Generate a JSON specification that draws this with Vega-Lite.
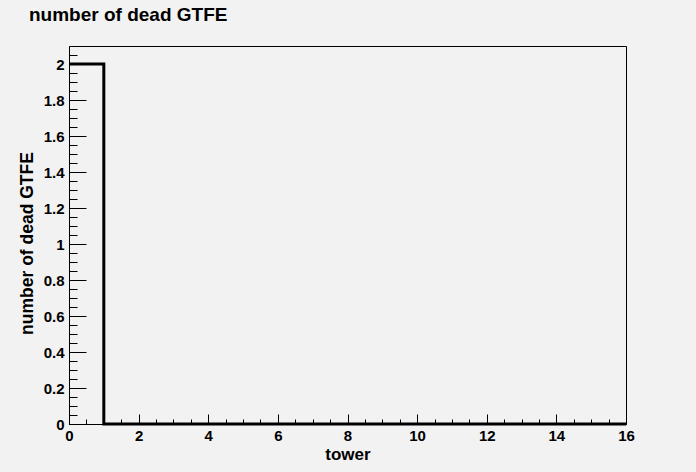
{
  "$schema": "https://vega.github.io/schema/vega-lite/v6.json",
  "autosize": "none",
  "width": 557,
  "height": 378,
  "padding": {"left": 69, "top": 46, "right": 70, "bottom": 48},
  "background": "#f2f2f2",
  "config": {
    "view": {"stroke": "#000000", "strokeWidth": 1, "fill": "#f2f2f2"},
    "font": "Liberation Sans"
  },
  "title": {
    "text": "number of dead GTFE",
    "anchor": "start",
    "frame": "group",
    "font": "Liberation Sans",
    "fontSize": 19,
    "fontWeight": "bold",
    "color": "#000000",
    "dx": -40,
    "offset": 21
  },
  "data": {
    "values": [
      {"tower": 0, "dead": 2},
      {"tower": 1, "dead": 0},
      {"tower": 2, "dead": 0},
      {"tower": 3, "dead": 0},
      {"tower": 4, "dead": 0},
      {"tower": 5, "dead": 0},
      {"tower": 6, "dead": 0},
      {"tower": 7, "dead": 0},
      {"tower": 8, "dead": 0},
      {"tower": 9, "dead": 0},
      {"tower": 10, "dead": 0},
      {"tower": 11, "dead": 0},
      {"tower": 12, "dead": 0},
      {"tower": 13, "dead": 0},
      {"tower": 14, "dead": 0},
      {"tower": 15, "dead": 0},
      {"tower": 16, "dead": 0}
    ]
  },
  "layer": [
    {
      "mark": {"type": "line", "interpolate": "step-after", "color": "#000000", "strokeWidth": 3, "clip": false},
      "encoding": {
        "x": {
          "field": "tower", "type": "quantitative",
          "scale": {"domain": [0, 16], "nice": false, "zero": false},
          "axis": {
            "orient": "bottom", "title": "tower", "values": [0, 2, 4, 6, 8, 10, 12, 14, 16],
            "tickSize": -10, "tickColor": "#000000", "domainColor": "#000000", "domainWidth": 1,
            "labelFont": "Liberation Sans", "labelFontSize": 15, "labelFontWeight": "bold", "labelColor": "#000000",
            "labelPadding": 14, "labelFlush": false, "grid": false,
            "titleFont": "Liberation Sans", "titleFontSize": 17, "titleFontWeight": "bold", "titleColor": "#000000",
            "titlePadding": 3
          }
        },
        "y": {
          "field": "dead", "type": "quantitative",
          "scale": {"domain": [0, 2.1], "nice": false},
          "axis": {
            "orient": "left", "title": "number of dead GTFE",
            "values": [0, 0.2, 0.4, 0.6, 0.8, 1, 1.2, 1.4, 1.6, 1.8, 2], "format": "~g",
            "tickSize": -17, "tickColor": "#000000", "domainColor": "#000000", "domainWidth": 1,
            "labelFont": "Liberation Sans", "labelFontSize": 15, "labelFontWeight": "bold", "labelColor": "#000000",
            "labelPadding": 22, "labelFlush": false, "grid": false,
            "titleFont": "Liberation Sans", "titleFontSize": 17.5, "titleFontWeight": "bold", "titleColor": "#000000",
            "titlePadding": 7, "titleY": 197
          }
        }
      }
    },
    {
      "mark": {"type": "line", "opacity": 0},
      "encoding": {
        "x": {
          "field": "tower", "type": "quantitative",
          "axis": {
            "orient": "bottom", "title": null, "labels": false, "domain": false, "grid": false,
            "values": [0.5, 1, 1.5, 2.5, 3, 3.5, 4.5, 5, 5.5, 6.5, 7, 7.5, 8.5, 9, 9.5, 10.5, 11, 11.5, 12.5, 13, 13.5, 14.5, 15, 15.5],
            "tickSize": -5, "tickColor": "#000000"
          }
        },
        "y": {
          "field": "dead", "type": "quantitative",
          "axis": {
            "orient": "left", "title": null, "labels": false, "domain": false, "grid": false,
            "values": [0.05, 0.1, 0.15, 0.25, 0.3, 0.35, 0.45, 0.5, 0.55, 0.65, 0.7, 0.75, 0.85, 0.9, 0.95, 1.05, 1.1, 1.15, 1.25, 1.3, 1.35, 1.45, 1.5, 1.55, 1.65, 1.7, 1.75, 1.85, 1.9, 1.95, 2.05],
            "tickSize": -8, "tickColor": "#000000"
          }
        }
      }
    }
  ],
  "resolve": {"axis": {"x": "independent", "y": "independent"}}
}
